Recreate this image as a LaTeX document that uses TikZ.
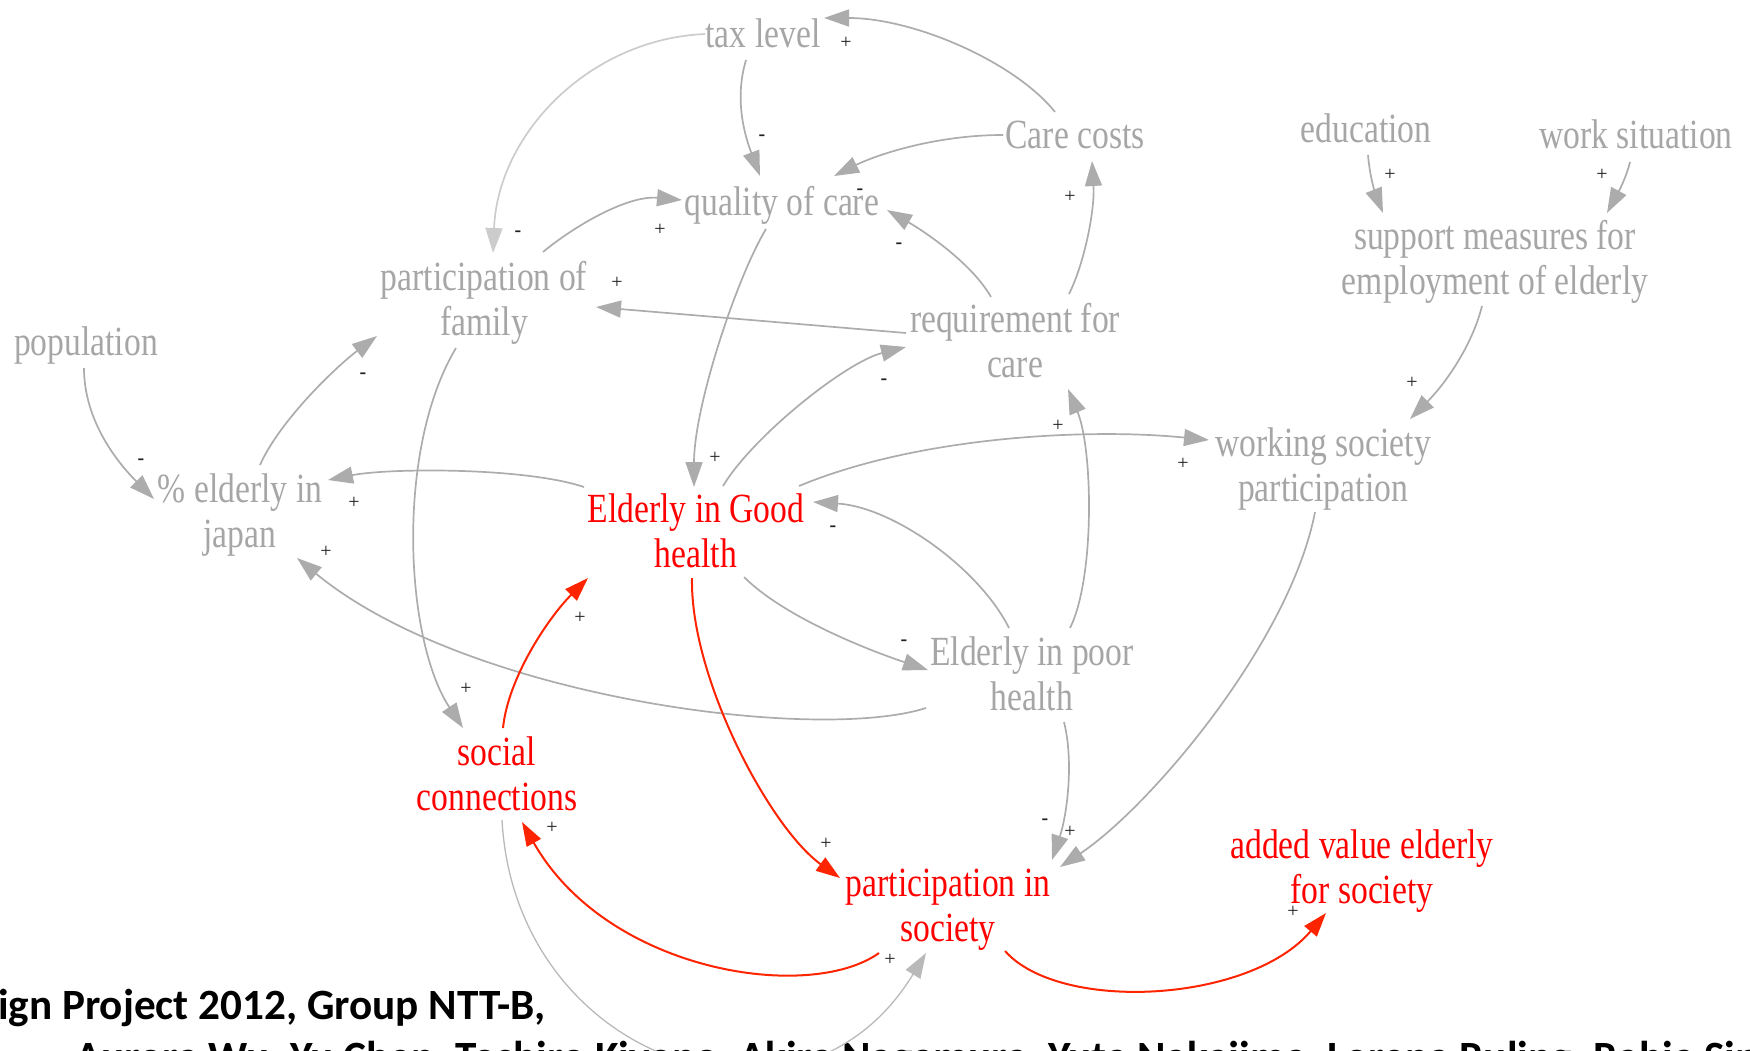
\documentclass[tikz,border=0pt]{standalone}
\usepackage{fontspec}
\usetikzlibrary{arrows.meta,calc}
\newfontfamily\condfont[FakeStretch=0.81]{Liberation Serif}
\newfontfamily\signfont{Liberation Serif}
\newfontfamily\footfont{Carlito}
\definecolor{txtgray}{RGB}{166,166,166}
\definecolor{lngray}{RGB}{172,172,172}
\definecolor{lnlight}{RGB}{204,204,204}
\definecolor{lnthin}{RGB}{185,185,185}
\definecolor{txtred}{RGB}{255,0,0}
\definecolor{lnred}{RGB}{255,36,0}
\definecolor{sgncol}{RGB}{30,30,30}
\tikzset{
  lbl/.style={inner sep=0pt, text=txtgray, align=center, font=\condfont\fontsize{41.5}{45}\selectfont},
  rlbl/.style={lbl, text=txtred},
  sgn/.style={inner sep=0pt, text=sgncol, font=\signfont\fontsize{20}{22}\selectfont},
  garrow/.style={draw=lngray, line width=1.7pt, -{Triangle[length=25pt,width=17pt]}},
  lgarrow/.style={garrow, draw=lnlight, -{Triangle[length=25pt,width=17pt,fill=lnlight]}},
  tgarrow/.style={garrow, draw=lnthin, line width=1.3pt},
  rarrow/.style={draw=lnred, line width=2pt, -{Triangle[length=24pt,width=16pt]}},
  foot/.style={inner sep=0pt, text=black, font=\footfont\bfseries\fontsize{43.2}{50}\selectfont},
}
\begin{document}
\begin{tikzpicture}[x=1pt,y=-1pt]
\useasboundingbox (0,0) rectangle (1750,1050);
\clip (0,0) rectangle (1750,1050);
% nodes
\node[lbl, anchor=base] (tax) at (763,47) {tax level};
\node[lbl, anchor=base] (cc) at (1075,148) {Care costs};
\node[lbl, anchor=base] (qoc) at (782,215) {quality of care};
\node[lbl, anchor=base] (pop) at (86,355) {population};
\node[lbl, anchor=base] (edu) at (1366,142) {education};
\node[lbl, anchor=base] (ws) at (1636,148) {work situation};
\node[lbl] (fam) at (484,303) {participation of\\family};
\node[lbl] (req) at (1015,341) {requirement for\\care};
\node[lbl] (sup) at (1495,262) {support measures for\\employment of elderly};
\node[lbl] (jap) at (240,515) {\% elderly in\\japan};
\node[rlbl] (good) at (696,531) {Elderly in Good\\health};
\node[lbl] (work) at (1323,469) {working society\\participation};
\node[lbl] (poor) at (1032,674) {Elderly in poor\\health};
\node[rlbl] (soc) at (497,774) {social\\connections};
\node[rlbl] (part) at (948,910) {participation in\\society};
\node[rlbl] (add) at (1362,871) {added value elderly\\for society};
% footer
\node[foot, anchor=base east] (ft1) at (546,1019) {Design Project 2012, Group NTT-B,};
\node[foot, anchor=base west] (ft2) at (75,1071) {Aurora Wu, Yu Chen, Toshiro Kiyono, Akira Nagamura, Yuta Nakajima, Lorena Ruling, Rabia Sin};
% connectors
\draw[lgarrow] ([shift={(-58,-13)}]tax.base) .. controls +(-115,5) and +(5,-120) .. ([shift={(9,-50)}]fam.center);
\draw[garrow] ([shift={(-17,13)}]tax.base) .. controls +(-12,40) and +(-15,-40) .. ([shift={(-22,-39)}]qoc.base);
\draw[garrow] ([shift={(-20,-36)}]cc.base) .. controls +(-40,-50) and +(90,0) .. ([shift={(61,-29)}]tax.base);
\draw[garrow] ([shift={(-72,-13)}]cc.base) .. controls +(-70,0) and +(40,-20) .. ([shift={(52,-39)}]qoc.base);
\draw[garrow] ([shift={(59,-51)}]fam.center) .. controls +(30,-25) and +(-55,-5) .. ([shift={(-100,-15)}]qoc.base);
\draw[garrow] ([shift={(-109,-8)}]req.center) -- ([shift={(112,4)}]fam.center);
\draw[garrow] ([shift={(-24,-44)}]req.center) .. controls +(-20,-35) and +(35,20) .. ([shift={(105,-5)}]qoc.base);
\draw[garrow] ([shift={(54,-47)}]req.center) .. controls +(15,-30) and +(3,50) .. ([shift={(17,13)}]cc.base);
\draw[garrow] ([shift={(-16,14)}]qoc.base) .. controls +(-30,50) and +(0,-80) .. ([shift={(-2,-44)}]good.center);
\draw[garrow] ([shift={(27,-45)}]good.center) .. controls +(30,-50) and +(-60,15) .. ([shift={(-109,6)}]req.center);
\draw[garrow] ([shift={(-112,-44)}]good.center) .. controls +(-60,-20) and +(60,-12) .. ([shift={(88,-35)}]jap.center);
\draw[garrow] ([shift={(103,-45)}]good.center) .. controls +(120,-50) and +(-120,-12) .. ([shift={(-114,-29)}]work.center);
\draw[garrow] ([shift={(48,46)}]good.center) .. controls +(40,40) and +(-60,-20) .. ([shift={(-104,-4)}]poor.center);
\draw[garrow] ([shift={(-23,-46)}]poor.center) .. controls +(-30,-60) and +(80,5) .. ([shift={(117,-29)}]good.center);
\draw[garrow] ([shift={(38,-46)}]poor.center) .. controls +(25,-50) and +(25,60) .. ([shift={(53,48)}]req.center);
\draw[garrow] ([shift={(-106,34)}]poor.center) .. controls +(-110,35) and +(170,140) .. ([shift={(57,43)}]jap.center);
\draw[garrow] ([shift={(-2,13)}]pop.base) .. controls +(0,50) and +(-40,-40) .. ([shift={(-86,-16)}]jap.center);
\draw[garrow] ([shift={(20,-50)}]jap.center) .. controls +(20,-45) and +(-40,30) .. ([shift={(-107,33)}]fam.center);
\draw[garrow] ([shift={(-28,45)}]fam.center) .. controls +(-61,102) and +(-58,-88) .. ([shift={(-34,-46)}]soc.center);
\draw[tgarrow] ([shift={(5,46)}]soc.center) .. controls +(13,240) and +(-126,207) .. ([shift={(-22,43)}]part.center);
\draw[garrow] ([shift={(-8,43)}]work.center) .. controls +(-25,130) and +(90,-60) .. ([shift={(112,-43)}]part.center);
\draw[garrow] ([shift={(32,48)}]poor.center) .. controls +(10,40) and +(15,-45) .. ([shift={(104,-50)}]part.center);
\draw[garrow] ([shift={(-13,44)}]sup.center) .. controls +(-10,40) and +(35,-35) .. ([shift={(87,-50)}]work.center);
\draw[garrow] ([shift={(2,13)}]edu.base) .. controls +(2,25) and +(-6,-15) .. ([shift={(-112,-49)}]sup.center);
\draw[garrow] ([shift={(-6,14)}]ws.base) .. controls +(-5,20) and +(8,-15) .. ([shift={(112,-49)}]sup.center);
% red connectors
\draw[rarrow] ([shift={(6,-46)}]soc.center) .. controls +(5,-50) and +(-40,40) .. ([shift={(-108,47)}]good.center);
\draw[rarrow] ([shift={(-4,47)}]good.center) .. controls +(-2,100) and +(-70,-50) .. ([shift={(-108,-32)}]part.center);
\draw[rarrow] ([shift={(-69,43)}]part.center) .. controls +(-70,50) and +(85,150) .. ([shift={(25,48)}]soc.center);
\draw[rarrow] ([shift={(57,41)}]part.center) .. controls +(55,62) and +(-76,90) .. ([shift={(-36,42)}]add.center);
% signs
\node[sgn] (s1) at (518,234) {\bfseries -};
\node[sgn] (s2) at (762,138) {\bfseries -};
\node[sgn] (s3) at (846,43) {+};
\node[sgn] (s4) at (860,192) {\bfseries -};
\node[sgn] (s5) at (660,230) {+};
\node[sgn] (s6) at (617,283) {+};
\node[sgn] (s7) at (899,246) {\bfseries -};
\node[sgn] (s8) at (1070,197) {+};
\node[sgn] (s9) at (715,458) {+};
\node[sgn] (s10) at (884,382) {\bfseries -};
\node[sgn] (s11) at (354,503) {+};
\node[sgn] (s12) at (1183,464) {+};
\node[sgn] (s13) at (904,643) {\bfseries -};
\node[sgn] (s14) at (833,529) {\bfseries -};
\node[sgn] (s15) at (1058,426) {+};
\node[sgn] (s16) at (326,552) {+};
\node[sgn] (s17) at (141,462) {\bfseries -};
\node[sgn] (s18) at (363,376) {\bfseries -};
\node[sgn] (s19) at (466,689) {+};
\node[sgn] (s20) at (580,618) {+};
\node[sgn] (s21) at (826,844) {+};
\node[sgn] (s22) at (552,828) {+};
\node[sgn] (s23) at (1293,912) {+};
\node[sgn] (s24) at (890,960) {+};
\node[sgn] (s25) at (1070,832) {+};
\node[sgn] (s26) at (1045,822) {\bfseries -};
\node[sgn] (s27) at (1412,383) {+};
\node[sgn] (s28) at (1390,175) {+};
\node[sgn] (s29) at (1602,175) {+};
\end{tikzpicture}
\end{document}
